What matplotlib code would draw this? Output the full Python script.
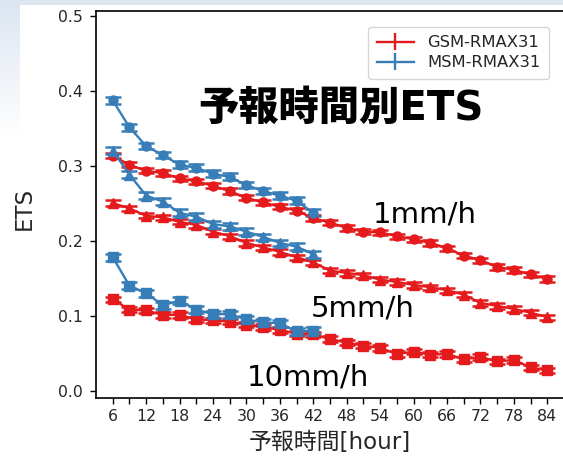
import numpy as np
import matplotlib
matplotlib.use('Agg')
import matplotlib.pyplot as plt

plt.rcParams['font.family'] = ['DejaVu Sans', 'Noto Sans CJK JP']

# forecast hours
gsm_hours = list(range(6, 85, 3))
msm_hours = list(range(6, 43, 3))

# ETS
gsm_1mm = [0.314, 0.302, 0.294, 0.291, 0.284, 0.280, 0.274, 0.267, 0.258, 0.252,
           0.246, 0.241, 0.231, 0.225, 0.218, 0.213, 0.212, 0.207, 0.203, 0.198,
           0.191, 0.181, 0.175, 0.166, 0.162, 0.156, 0.150]
gsm_5mm = [0.251, 0.244, 0.234, 0.232, 0.226, 0.222, 0.213, 0.207, 0.198, 0.192,
           0.186, 0.179, 0.172, 0.161, 0.158, 0.155, 0.149, 0.146, 0.142, 0.139,
           0.135, 0.129, 0.118, 0.114, 0.110, 0.105, 0.099]
gsm_10mm = [0.123, 0.109, 0.108, 0.102, 0.102, 0.096, 0.095, 0.093, 0.089, 0.086,
            0.082, 0.077, 0.076, 0.070, 0.065, 0.061, 0.058, 0.050, 0.053, 0.049,
            0.050, 0.043, 0.046, 0.040, 0.042, 0.032, 0.028]
msm_1mm = [0.388, 0.352, 0.327, 0.315, 0.302, 0.298, 0.290, 0.286, 0.275, 0.267,
           0.261, 0.254, 0.238]
msm_5mm = [0.321, 0.289, 0.261, 0.253, 0.238, 0.233, 0.223, 0.220, 0.213, 0.206,
           0.198, 0.193, 0.183]
msm_10mm = [0.179, 0.141, 0.131, 0.115, 0.121, 0.109, 0.103, 0.103, 0.096, 0.092,
            0.091, 0.080, 0.081]

# rough error bar half widths
gsm_err = 0.0035
msm_err = 0.0045

gsm_color = '#e41a1c'
msm_color = '#377eb8'
text_color = '#262626'

fig = plt.figure(figsize=(5.63, 4.59), dpi=100)

# slide background peeking in at the top/left
bg = fig.add_axes([0, 0, 1, 1], zorder=-5)
bg.axis('off')
img = np.ones((459, 563, 3))
edge = np.array([0.867, 0.902, 0.945])
for row in range(459):
    if row < 5:
        img[row, :] = edge
    elif row < 135:
        t = (row - 5) / 130.0
        img[row, :20] = edge * (1 - t) + np.ones(3) * t
bg.imshow(img, aspect='auto', extent=[0, 1, 0, 1])
bg.set_xlim(0, 1)
bg.set_ylim(0, 1)

ax = fig.add_axes([96 / 563, 61 / 459, 468 / 563, 387 / 459])

err_kw = dict(lw=1.7, markersize=6.5, capsize=6, capthick=1.8, elinewidth=1.5)
for vals, mk in [(gsm_1mm, 'o'), (gsm_5mm, '^'), (gsm_10mm, 's')]:
    ax.errorbar(gsm_hours, vals, yerr=gsm_err, color=gsm_color, marker=mk, **err_kw)
for vals, mk in [(msm_1mm, 'o'), (msm_5mm, '^'), (msm_10mm, 's')]:
    ax.errorbar(msm_hours, vals, yerr=msm_err, color=msm_color, marker=mk, **err_kw)

# legend proxies (no marker, just the bar)
h1 = ax.errorbar([], [], yerr=[], color=gsm_color, lw=1.7, capsize=6, capthick=1.8)
h2 = ax.errorbar([], [], yerr=[], color=msm_color, lw=1.7, capsize=6, capthick=1.8)
leg = fig.legend([h1, h2], ['GSM-RMAX31', 'MSM-RMAX31'], loc='upper right',
                 bbox_to_anchor=(557 / 563, 1 - 19 / 459), fontsize=11.8,
                 handlelength=2.3, borderpad=0.5, labelspacing=0.3)
for t in leg.get_texts():
    t.set_color(text_color)

ax.set_xlim(3, 87)
ax.set_ylim(-0.0087, 0.507)
ax.set_xticks(gsm_hours)
ax.set_xticklabels([str(h) if h % 6 == 0 else '' for h in gsm_hours])
ax.set_yticks([0.0, 0.1, 0.2, 0.3, 0.4, 0.5])
ax.set_yticklabels(['0.0', '0.1', '0.2', '0.3', '0.4', '0.5'])
ax.tick_params(labelsize=11.3, labelcolor=text_color, length=4.5, width=1.0)
ax.tick_params(axis='y', pad=5)
for s in ax.spines.values():
    s.set_linewidth(1.2)

ax.set_ylabel('ETS', fontsize=16.5, color=text_color)
ax.yaxis.set_label_coords(-0.128, 0.49)
ax.set_xlabel('予報時間[hour]', fontsize=16.5, color=text_color)
ax.xaxis.set_label_coords(0.5, -0.085)

# threshold labels
ax.text(52.7, 0.225, '1mm/h', fontsize=21, ha='left', va='baseline', color='black')
ax.text(41.5, 0.0997, '5mm/h', fontsize=21, ha='left', va='baseline', color='black')
ax.text(30.1, 0.0073, '10mm/h', fontsize=21, ha='left', va='baseline', color='black')

fig.text(341 / 563, 1 - 109 / 459, '予報時間別ETS', fontsize=29, fontweight='heavy',
         ha='center', va='center', color='black')

fig.savefig('out.png', dpi=100)
